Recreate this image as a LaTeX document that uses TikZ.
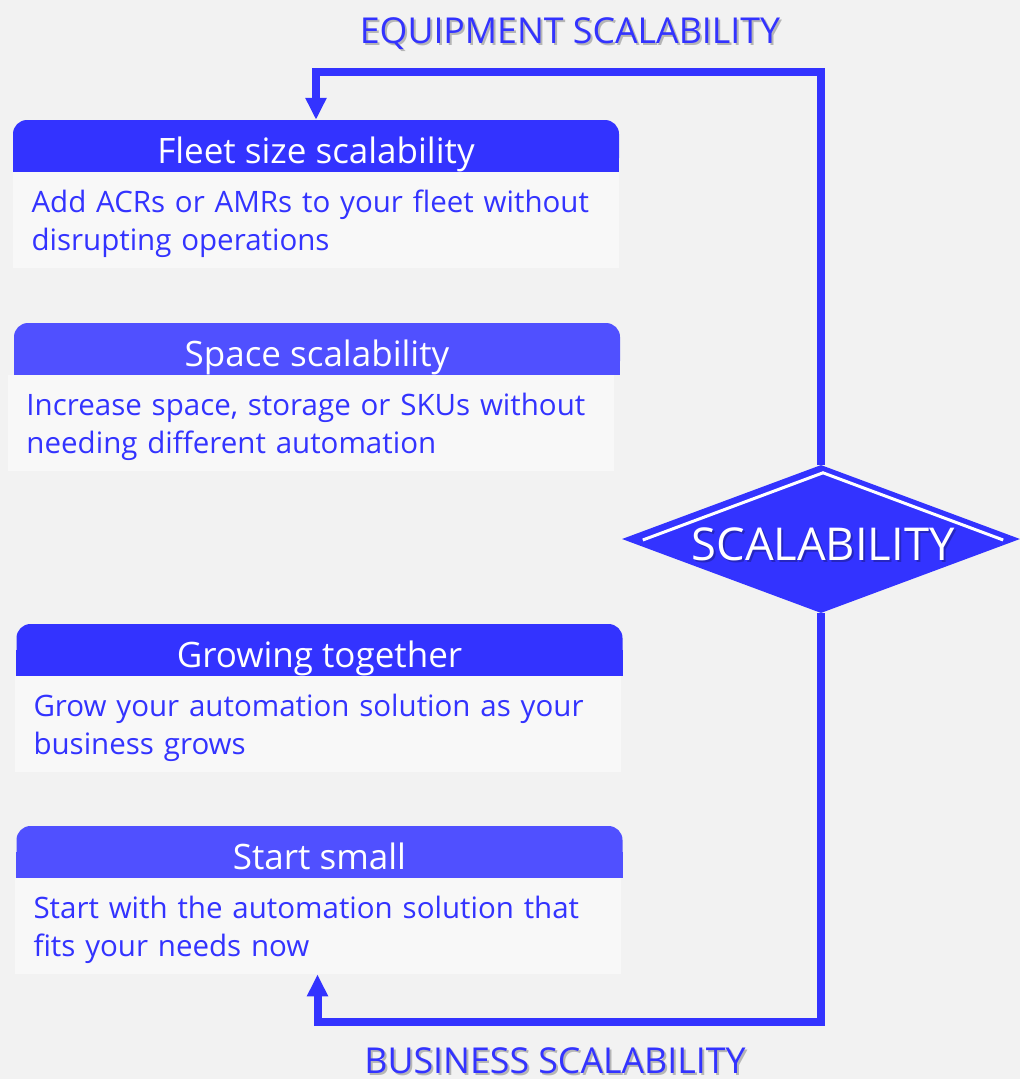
\documentclass[tikz,border=0pt]{standalone}
\usepackage{fontspec}
\setmainfont{Open Sans}
\usetikzlibrary{arrows.meta,shapes.geometric,positioning,calc,backgrounds}
\definecolor{primary}{RGB}{51,51,255}
\definecolor{primarylt}{RGB}{80,80,255}
\definecolor{pagebg}{RGB}{242,242,242}
\definecolor{bodyfill}{RGB}{248,248,248}
\tikzset{
  headbox/.style={rectangle,rounded corners=14pt,fill=#1,text=white,
                  minimum width=606pt,minimum height=52pt,inner sep=0pt,
                  text height=34pt,text depth=0pt,
                  font=\fontsize{35}{40}\selectfont},
  bodybox/.style={rectangle,fill=bodyfill,text=primary,anchor=north,
                  text width=568pt,minimum height=96pt,inner xsep=19pt,
                  inner ysep=0pt,align=left,font=\fontsize{29.5}{38}\selectfont,
                  execute at begin node={\rule{0pt}{33pt}},
                  execute at end node={\strut}},
  flow/.style={-{Triangle[width=20pt,length=22pt]},line width=8pt,primary},
  caption/.style={text=primary,inner sep=0pt,text height=26pt,text depth=0pt,
                  font=\fontsize{35.7}{40}\selectfont},
  drop/.style={text=black,opacity=0.25},
}
\begin{document}
\begin{tikzpicture}[x=1pt,y=-1pt]
  \useasboundingbox (0,0) rectangle (1020,1079);
  \begin{pgfonlayer}{background}
    \fill[pagebg] (0,0) rectangle (1020,1079);
  \end{pgfonlayer}
  % the four cards
  \foreach \n/\y/\hx/\bx/\c/\t/\d in {
      1/146/316/315.5/primary/Fleet size scalability/{Add ACRs or AMRs to your fleet without disrupting operations},
      2/349/317/310.5/primarylt/Space scalability/{Increase space, storage or SKUs without needing different automation},
      3/650/319.5/317.5/primary/Growing together/{Grow your automation solution as your business grows},
      4/852/319.5/317.5/primarylt/Start small/{Start with the automation solution that fits your needs now}}{
    \node[headbox=\c] (h\n) at (\hx,\y) {\t};
    \begin{pgfonlayer}{background}
      \fill[\c] (h\n.west) rectangle (h\n.south east);
    \end{pgfonlayer}
    \node[bodybox] (b\n) at (\bx,\y+26) {\d};
  }
  % hub
  \node[diamond,fill=primary,minimum width=398pt,minimum height=148pt,
        inner sep=0pt] (dia) at (821,539) {};
  \draw[white,line width=3pt] ($(dia.west)+(21,1)$) -- ($(dia.north)+(2,8)$)
    -- ($(dia.east)+(-17,1)$);
  \node[drop,font=\fontsize{45.3}{50}\selectfont] (scalsh) at (825,546) {SCALABILITY};
  \node[text=white,font=\fontsize{45.3}{50}\selectfont] (scal) at (823,544) {SCALABILITY};
  % loops
  \coordinate (eqbend) at (821,72);
  \coordinate (bzbend) at (821,1022);
  \draw[flow] (dia.north) -- (eqbend) -| (h1.north);
  \draw[flow] (dia.south) -- (bzbend) -| (b4.south);
  \node[caption,drop] (eqsh) at (572,32) {EQUIPMENT SCALABILITY};
  \node[caption] (eq) at (570,30) {EQUIPMENT SCALABILITY};
  \node[caption,drop] (bzsh) at (557,1062) {BUSINESS SCALABILITY};
  \node[caption] (bz) at (555,1060) {BUSINESS SCALABILITY};
\end{tikzpicture}
\end{document}
